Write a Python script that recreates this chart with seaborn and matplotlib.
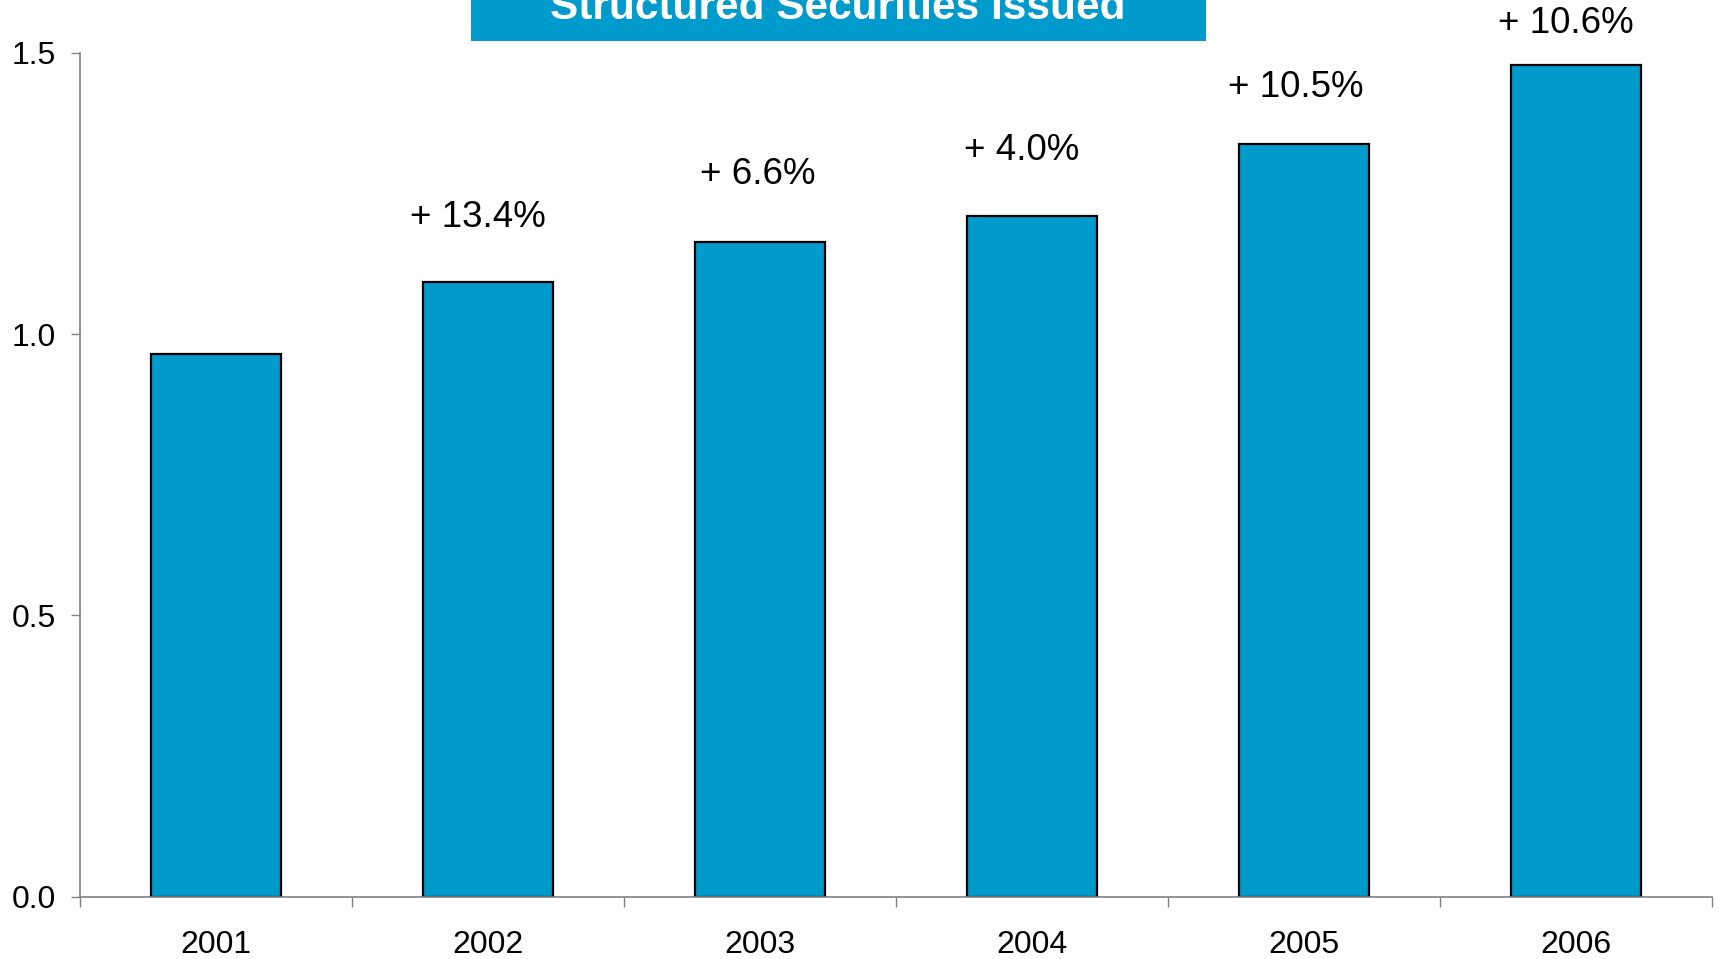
import matplotlib
matplotlib.use("Agg")
import matplotlib.pyplot as plt
import seaborn as sns
import pandas as pd
from matplotlib.patches import Rectangle

years = ["2001", "2002", "2003", "2004", "2005", "2006"]
values = [0.964, 1.092, 1.163, 1.210, 1.337, 1.478]
growth_labels = ["", "+ 13.4%", "+ 6.6%", "+ 4.0%", "+ 10.5%", "+ 10.6%"]
y_ticks = [0.0, 0.5, 1.0, 1.5]
y_tick_labels = ["0.0", "0.5", "1.0", "1.5"]
title = "Structured Securities Issued"

# layout: pixel offsets of growth labels relative to bar tops
label_dx_px = [0, -10, -2, -10, -8, -10]
label_dy_px = [0, 65, 68, 65, 57, 42]

sns.set_style("white")
plt.rcParams["font.family"] = ["Liberation Sans", "DejaVu Sans"]

W, H = 1719, 959
fig = plt.figure(figsize=(W / 100, H / 100), dpi=100)
ax = fig.add_axes([80 / W, 1 - 896.7 / H, (1712 - 80) / W, (896.7 - 52.7) / H])

df = pd.DataFrame({"year": years, "value": values})
sns.barplot(data=df, x="year", y="value", ax=ax, color="#009ACD", saturation=1,
            width=0.48, edgecolor="black", linewidth=1.6)

ax.set_xlim(-0.5, len(years) - 0.5)
ax.set_ylim(0, 1.5)
ax.set_xlabel("")
ax.set_ylabel("")

# y axis
ax.set_yticks(y_ticks)
ax.set_yticklabels(y_tick_labels)
ax.tick_params(axis="y", which="major", direction="out", length=6.5, width=1,
               color="#808080", pad=11, labelsize=23, labelcolor="black", left=True)

# x axis: boundary ticks, labels at centers
ax.set_xticks([i - 0.5 for i in range(len(years) + 1)])
ax.set_xticklabels([])
ax.set_xticks(range(len(years)), minor=True)
ax.set_xticklabels(years, minor=True)
ax.tick_params(axis="x", which="major", direction="out", length=7, width=1,
               color="#808080", bottom=True)
ax.tick_params(axis="x", which="minor", length=0, pad=24, labelsize=23,
               labelcolor="black")

for s in ["top", "right"]:
    ax.spines[s].set_visible(False)
for s in ["left", "bottom"]:
    ax.spines[s].set_color("#808080")
    ax.spines[s].set_linewidth(1.2)

for i, (v, lab, dx, dy) in enumerate(zip(values, growth_labels, label_dx_px, label_dy_px)):
    if lab:
        ax.annotate(lab, xy=(i, v), xytext=(dx, dy), textcoords="offset pixels",
                    ha="center", va="center", fontsize=26.5, color="black",
                    annotation_clip=False)

# title box
fig.patches.append(Rectangle((471 / W, 1 - 40.6 / H), 735 / W, 60 / H,
                             transform=fig.transFigure, facecolor="#009ACD",
                             edgecolor="none", zorder=5))
fig.text(838 / W, 1 - 19 / H, title, ha="center", va="baseline",
         fontsize=30.5, fontweight="bold", color="white", zorder=6)

fig.savefig("out.png", dpi=100)
